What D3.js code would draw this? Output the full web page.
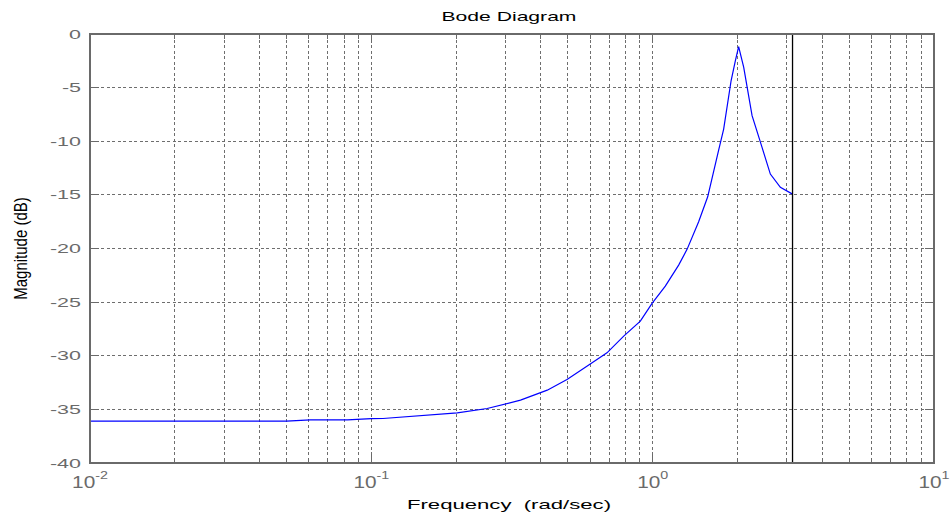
<!DOCTYPE html>
<html>
<head>
<meta charset="utf-8">
<script src="https://cdn.jsdelivr.net/npm/d3@7"></script>
<style>
  html, body { margin: 0; padding: 0; background: #fff; }
  svg { display: block; }
  text { font-family: "Liberation Sans", Arial, sans-serif; }
</style>
</head>
<body>
<svg id="chart" width="950" height="517"></svg>
<script>
// Frequency response samples (rad/sec) and magnitude (dB)
const freq = [0.01, 0.05, 0.0607, 0.0822, 0.1, 0.11, 0.202, 0.258, 0.339, 0.422,
              0.496, 0.600, 0.688, 0.789, 0.904, 0.995, 1.109, 1.237, 1.325, 1.457,
              1.569, 1.716, 1.788, 1.900, 1.968, 2.021, 2.107, 2.256, 2.448, 2.620,
              2.844, 3.1416];
const magDb = [-36.10, -36.10, -35.98, -35.98, -35.87, -35.85, -35.33, -34.92, -34.14, -33.21,
               -32.21, -30.78, -29.73, -28.17, -26.77, -25.12, -23.51, -21.55, -20.08, -17.51,
               -15.18, -10.82, -8.86, -4.36, -2.49, -1.18, -3.11, -7.62, -10.57, -13.06,
               -14.30, -14.93];
const nyquist = [3.1416];
const xDomain = [0.01, 10];
const yDomain = [-40, 0];
const yTicks = [0, -5, -10, -15, -20, -25, -30, -35, -40];
const xDecades = [-2, -1, 0, 1];
const titleText = "Bode Diagram";
const xLabelText = "Frequency\u00a0\u00a0(rad/sec)";
const yLabelText = "Magnitude\u00a0(dB)";

const svg = d3.select("#chart");
const L = 90, R = 934, T = 34, B = 463;
const x = d3.scaleLog().domain(xDomain).range([L, R]);
const y = d3.scaleLinear().domain(yDomain).range([B, T]);

const gridColor = "#6e6e6e";
const frameColor = "#6a6a6a";
const labelColor = "#6a6a6a";

// minor grid values: 1..9 in each decade
const gridX = [];
for (let d = -2; d < 1; d++) {
  for (let m = 1; m <= 9; m++) {
    const v = m * Math.pow(10, d);
    if (v > xDomain[0] && v < xDomain[1]) gridX.push(v);
  }
}

// vertical grid
svg.append("g").selectAll("line").data(gridX).join("line")
  .attr("x1", d => x(d)).attr("x2", d => x(d))
  .attr("y1", T).attr("y2", B)
  .attr("stroke", gridColor).attr("stroke-width", 1)
  .attr("stroke-dasharray", "3,2.5")
  .attr("shape-rendering", "crispEdges");

// horizontal grid
svg.append("g").selectAll("line").data(yTicks.filter(v => v > yDomain[0] && v < yDomain[1])).join("line")
  .attr("x1", L).attr("x2", R)
  .attr("y1", d => y(d)).attr("y2", d => y(d))
  .attr("stroke", gridColor).attr("stroke-width", 1)
  .attr("stroke-dasharray", "3,2.5")
  .attr("shape-rendering", "crispEdges");

// tick marks (inside the frame)
const tk = svg.append("g").attr("stroke", frameColor).attr("stroke-width", 1).attr("shape-rendering", "crispEdges");
yTicks.forEach(v => {
  tk.append("line").attr("x1", L).attr("x2", L + 9).attr("y1", y(v)).attr("y2", y(v));
  tk.append("line").attr("x1", R).attr("x2", R - 9).attr("y1", y(v)).attr("y2", y(v));
});
gridX.forEach(v => {
  const len = Number.isInteger(Math.log10(v)) ? 9 : 5;
  tk.append("line").attr("x1", x(v)).attr("x2", x(v)).attr("y1", B).attr("y2", B - len);
  tk.append("line").attr("x1", x(v)).attr("x2", x(v)).attr("y1", T).attr("y2", T + len);
});

// magnitude curve
const line = d3.line().x((d, i) => x(freq[i])).y(d => y(d));
svg.append("path").datum(magDb)
  .attr("d", line)
  .attr("fill", "none")
  .attr("stroke", "#0000ff")
  .attr("stroke-width", 1.2);

// Nyquist frequency marker
svg.append("g").selectAll("line").data(nyquist).join("line")
  .attr("x1", d => x(d)).attr("x2", d => x(d))
  .attr("y1", T).attr("y2", B)
  .attr("stroke", "#000").attr("stroke-width", 1.3);

// frame
svg.append("rect")
  .attr("x", L).attr("y", T).attr("width", R - L).attr("height", B - T)
  .attr("fill", "none").attr("stroke", frameColor).attr("stroke-width", 2);

// y tick labels
const sxY = 1.72;
svg.append("g").selectAll("text").data(yTicks).join("text")
  .attr("transform", d => `translate(${L - 9},${y(d) + 4.5}) scale(${sxY},1)`)
  .attr("text-anchor", "end")
  .attr("font-size", 12.5)
  .attr("fill", labelColor)
  .text(d => d);

// x tick labels as powers of ten
const sxX = 1.3;
xDecades.forEach(e => {
  const t = svg.append("text")
    .attr("transform", `translate(${x(Math.pow(10, e))},488) scale(${sxX},1)`)
    .attr("text-anchor", "middle")
    .attr("font-size", 16)
    .attr("fill", labelColor);
  t.append("tspan").text("10");
  t.append("tspan").attr("font-size", 11).attr("dy", -9).text(e);
});

// title
svg.append("text")
  .attr("transform", `translate(509,21) scale(1.69,1)`)
  .attr("text-anchor", "middle")
  .attr("font-size", 12.5)
  .attr("fill", "#000")
  .text(titleText);

// x axis label
svg.append("text")
  .attr("transform", `translate(509,509) scale(1.8,1)`)
  .attr("text-anchor", "middle")
  .attr("font-size", 12.3)
  .attr("fill", "#000")
  .text(xLabelText);

// y axis label
svg.append("text")
  .attr("transform", `translate(27,${(T + B) / 2}) scale(1.28,1) rotate(-90)`)
  .attr("text-anchor", "middle")
  .attr("font-size", 15)
  .attr("fill", "#000")
  .text(yLabelText);
</script>
</body>
</html>
